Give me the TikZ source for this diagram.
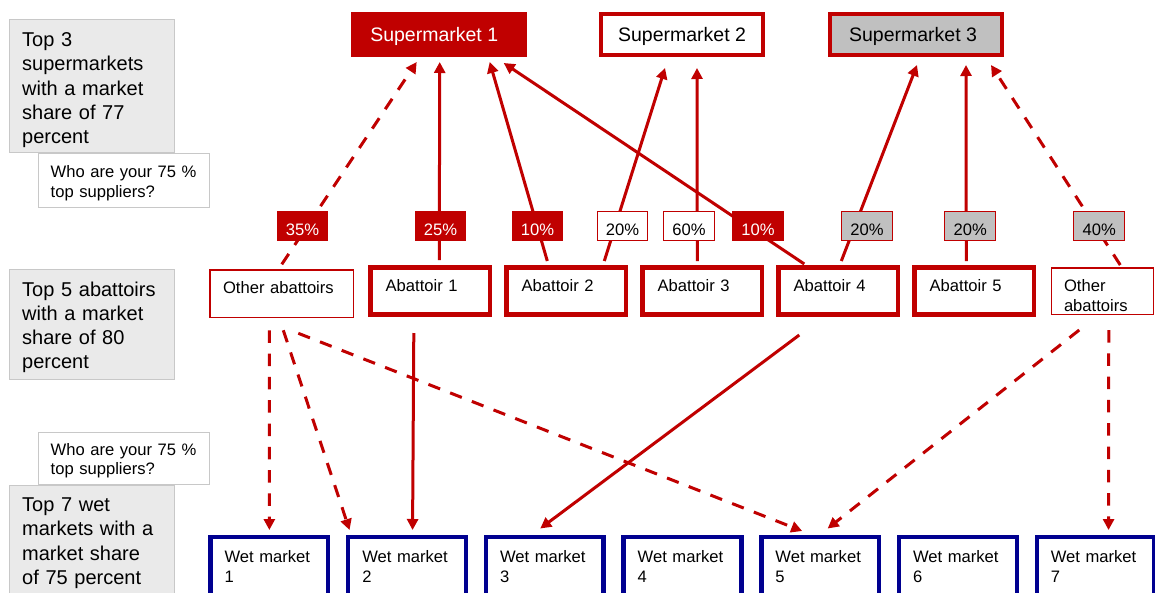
\documentclass[tikz,border=0pt]{standalone}
\usepackage{fontspec}
\setsansfont{Liberation Sans}
\usetikzlibrary{arrows.meta}
\definecolor{smred}{HTML}{C00000}
\definecolor{wmblue}{HTML}{000090}
\definecolor{boxgrey}{HTML}{EAEAEA}
\definecolor{edgegrey}{HTML}{C8C8C8}
\definecolor{pctgrey}{HTML}{C0C0C0}
\newcommand{\bigfont}{\fontsize{20pt}{24.15pt}\selectfont}
\newcommand{\smfont}{\fontsize{19.5pt}{23pt}\selectfont}
\newcommand{\smallfont}{\fontsize{16.6pt}{19.6pt}\selectfont}

\begin{document}
\begin{tikzpicture}[x=1pt, y=-1pt, font=\sffamily,
    market/.style={draw=smred, line width=4.4pt, inner sep=0pt, text height=28pt, text depth=13.1pt, font=\sffamily\smfont},
    abat/.style={draw=smred, line width=4.7pt, fill=white, align=left, text width=89.3pt, inner xsep=15pt, inner ysep=0pt, text height=24.35pt, text depth=22.95pt, font=\sffamily\smallfont},
    otherbox/.style={draw=smred, line width=1.5pt, fill=white, align=left, inner ysep=0pt, font=\sffamily\smallfont},
    wet/.style={draw=wmblue, line width=4.4pt, fill=white, align=left, text width=89.5pt, inner xsep=14.1pt, inner ysep=0pt, text height=25.5pt, text depth=40pt, font=\sffamily\smallfont},
    share/.style={draw=edgegrey, line width=1pt, fill=boxgrey, align=left, text width=139.5pt, inner xsep=12.4pt, inner ysep=0pt, font=\sffamily\bigfont},
    ask/.style={draw=edgegrey, line width=1pt, fill=white, align=left, text width=146.9pt, inner xsep=11.9pt, inner ysep=0pt, text depth=29.5pt, font=\sffamily\smallfont},
    pct/.style={draw=smred, line width=1pt, minimum width=50.7pt, inner sep=0pt, text height=23.2pt, text depth=5.2pt, font=\sffamily\smallfont},
    flow/.style={draw=smred, line width=3pt, -{Triangle[length=11pt,width=11pt]}},
    dflow/.style={flow, dash pattern=on 12.5pt off 10.8pt}]
    \path[use as bounding box, fill=white] (0,0) rectangle (1155,592);

    % left column
    \node[share, text height=27.2pt, text depth=106.1pt] (g1) at (91.95,86.15) {Top 3\\supermarkets\\with a market\\share of 77\\percent};
    \node[ask, text height=23.9pt] (q1) at (124.15,180.5) {Who are your 75 \%\\top suppliers?};
    \node[share, text height=26.2pt, text depth=83.5pt] (g2) at (91.95,324.65) {Top 5 abattoirs\\with a market\\share of 80\\percent};
    \node[share, text height=26.2pt, text depth=100pt] (g3) at (91.95,548.6) {Top 7 wet\\markets with a\\market share\\of 75 percent};
    \node[ask, text height=22.8pt] (q2) at (124.15,458.35) {Who are your 75 \%\\top suppliers?};

    % supermarkets
    \node[market, fill=smred, text=white, minimum width=171.6pt] (sm1) at (438.7,34.25) {Supermarket 1\hspace*{9pt}};
    \node[market, fill=white, minimum width=161.6pt] (sm2) at (682,34.25) {Supermarket 2};
    \node[market, fill=pctgrey, minimum width=171.6pt] (sm3) at (916,34.25) {Supermarket 3\hspace*{6pt}};

    % abattoirs
    \node[otherbox, text width=117.5pt, inner xsep=13pt, text height=23.3pt, text depth=24.2pt] (oa1) at (281.8,293.8) {Other abattoirs};
    \foreach \i in {1,...,5}
        \node[abat] (ab\i) at ({430.3+136*(\i-1)},291) {Abattoir \i};
    \node[otherbox, text width=76.5pt, inner xsep=12.75pt, text height=24pt, text depth=22.5pt] (oa2) at (1102.25,291) {Other\\abattoirs};

    % wet markets
    \foreach \i in {1,...,7}
        \node[wet] (wm\i) at ({269.35+137.7*(\i-1)},569.95) {Wet market\\\i};

    % abattoirs to supermarkets
    \draw[dflow] ([yshift=5pt]oa1.north) -- ([xshift=-22pt,yshift=-5pt]sm1.south);
    \draw[flow] ([xshift=9pt,yshift=5pt]ab1.north) -- ([xshift=1pt,yshift=-5pt]sm1.south);
    \draw[flow] ([xshift=-19pt,yshift=4pt]ab2.north) -- ([xshift=51pt,yshift=-5pt]sm1.south);
    \draw[flow] ([xshift=-34pt,yshift=1pt]ab4.north) -- ([xshift=65pt,yshift=-6pt]sm1.south);
    \draw[flow] ([xshift=38pt,yshift=4pt]ab2.north) -- ([xshift=-17pt,yshift=-11pt]sm2.south);
    \draw[flow] ([xshift=-5pt,yshift=4pt]ab3.north) -- ([xshift=15pt,yshift=-11pt]sm2.south);
    \draw[flow] ([xshift=3pt,yshift=4pt]ab4.north) -- ([xshift=1pt,yshift=-8pt]sm3.south);
    \draw[flow] ([xshift=-8pt,yshift=4pt]ab5.north) -- ([xshift=50pt,yshift=-8pt]sm3.south);
    \draw[dflow] ([xshift=18pt,yshift=2pt]oa2.north) -- ([xshift=75pt,yshift=-8pt]sm3.south);

    % abattoirs to wet markets
    \draw[dflow] ([xshift=-12.5pt,yshift=-12pt]oa1.south) -- ([yshift=5pt]wm1.north);
    \draw[dflow] ([xshift=1.5pt,yshift=-12pt]oa1.south) -- ([xshift=-57.5pt,yshift=5pt]wm2.north);
    \draw[dflow] ([xshift=16.5pt,yshift=-15pt]oa1.south) -- ([xshift=-18pt,yshift=4pt]wm5.north);
    \draw[flow] ([xshift=-16.5pt,yshift=-16pt]ab1.south) -- ([xshift=5.5pt,yshift=5pt]wm2.north);
    \draw[flow] ([xshift=-39pt,yshift=-18pt]ab4.south) -- ([xshift=-4.5pt,yshift=6.5pt]wm3.north);
    \draw[dflow] ([xshift=-23pt,yshift=-15pt]oa2.south) -- ([xshift=7.5pt,yshift=6.5pt]wm5.north);
    \draw[dflow] ([xshift=6.5pt,yshift=-15pt]oa2.south) -- ([xshift=13pt,yshift=5pt]wm7.north);

    % shares
    \foreach \x/\v/\f/\t [count=\n] in {302.6/35/smred/white, 440.4/25/smred/white, 537.6/10/smred/white,
            622.4/20/white/black, 688.9/60/white/black, 758/10/smred/white,
            867/20/pctgrey/black, 970.3/20/pctgrey/black, 1099.3/40/pctgrey/black}
        \node[pct, fill=\f, text=\t] (p\n) at (\x,226) {\v\%};
\end{tikzpicture}
\end{document}
